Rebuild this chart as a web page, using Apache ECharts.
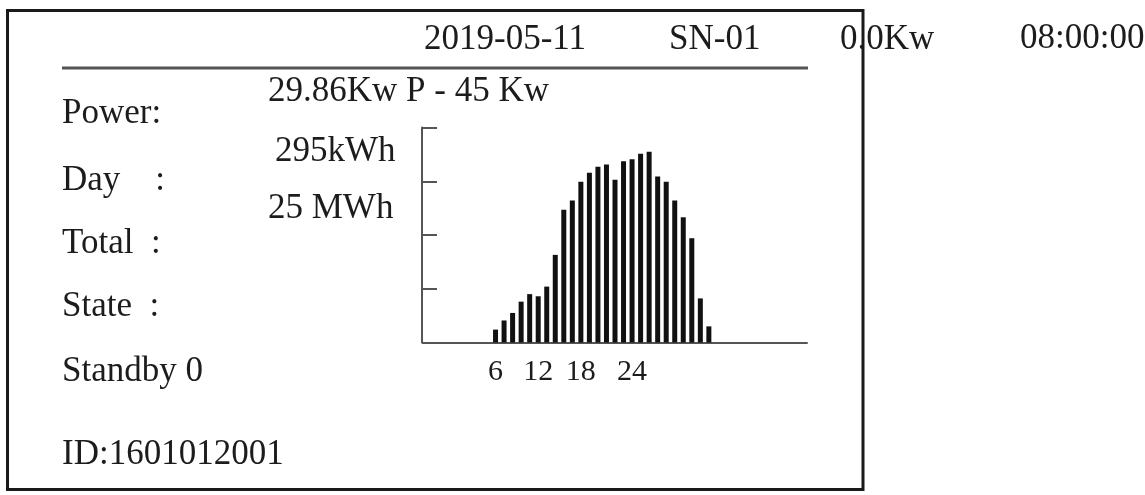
<!DOCTYPE html>
<html>
<head>
<meta charset="utf-8">
<title>Inverter display</title>
<script src="https://cdn.jsdelivr.net/npm/echarts@6/dist/echarts.min.js"></script>
<style>
    html, body { margin: 0; padding: 0; background: #fff; }
    #main { width: 1145px; height: 495px; }
</style>
</head>
<body>
<div id="main"></div>
<script>
'use strict';

// 45 slots along the time axis, bars only where there is output
var slots = Array.from({ length: 45 }, function (v, i) { return String(i); });

var power = [
    null, null, null, null, null, null, null, null,
    0.24, 0.41, 0.55, 0.76, 0.90, 0.86, 1.04, 1.63,
    2.47, 2.64, 2.99, 3.16, 3.27, 3.31, 3.03, 3.37,
    3.41, 3.51, 3.55, 3.09, 2.99, 2.64, 2.33, 1.94,
    0.82, 0.30,
    null, null, null, null, null, null, null, null, null, null, null
];

// tick labels shown under the bars, keyed by slot
var tickLabels = { '8': '6', '13': '12', '18': '18', '24': '24' };

var headerTexts = ['2019-05-11', 'SN-01', '0.0Kw', '08:00:00'];
var rowLabels = ['Power:', 'Day    :', 'Total  :', 'State  :', 'Standby 0', 'ID:1601012001'];
var rowValues = ['29.86Kw P - 45 Kw', '295kWh', '25 MWh'];

var fontFamily = '"Liberation Serif", "Times New Roman", serif';
var textColor = '#1c1c1c';

var txt = function (s, x, baseline, size) {
    size = size || 35;
    return {
        type: 'text',
        x: x,
        y: baseline - size * 0.32,
        z: 10,
        style: {
            text: s,
            fill: textColor,
            font: size + 'px ' + fontFamily,
            verticalAlign: 'middle',
            align: 'left'
        }
    };
};

var myChart = echarts.init(document.getElementById('main'));

var option = {
    backgroundColor: '#fff',
    animation: false,
    grid: {
        left: 423,
        top: 127.5,
        width: 384,
        height: 215
    },
    xAxis: {
        type: 'category',
        data: slots,
        axisLine: {
            lineStyle: { color: '#555', width: 2 }
        },
        axisTick: { show: false },
        axisLabel: {
            interval: 0,
            margin: 15,
            color: textColor,
            fontFamily: fontFamily,
            fontSize: 30,
            formatter: function (value, index) {
                return tickLabels[index] || '';
            }
        },
        splitLine: { show: false }
    },
    yAxis: {
        type: 'value',
        min: 0,
        max: 4,
        interval: 1,
        offset: 1,
        axisLine: {
            show: true,
            lineStyle: { color: '#555', width: 2 }
        },
        axisTick: {
            show: true,
            inside: true,
            length: 15,
            lineStyle: { color: '#555', width: 2 }
        },
        axisLabel: { show: false },
        splitLine: { show: false }
    },
    series: [
        {
            name: 'Power',
            type: 'bar',
            data: power,
            barWidth: 5,
            itemStyle: { color: '#111' }
        }
    ],
    graphic: [
        {
            type: 'line',
            z: 5,
            shape: { x1: 62, y1: 68, x2: 808, y2: 68 },
            style: { stroke: '#555', lineWidth: 3 }
        },
        txt(headerTexts[0], 424, 51),
        txt(headerTexts[1], 669, 51),
        txt(headerTexts[2], 840, 51),
        txt(headerTexts[3], 1020, 50),
        txt(rowValues[0], 268, 103),
        txt(rowValues[1], 275, 163),
        txt(rowValues[2], 268, 220),
        txt(rowLabels[0], 62, 125),
        txt(rowLabels[1], 62, 192),
        txt(rowLabels[2], 62, 255),
        txt(rowLabels[3], 62, 318),
        txt(rowLabels[4], 62, 383),
        txt(rowLabels[5], 62, 466),
        {
            type: 'rect',
            z: 20,
            shape: { x: 7.5, y: 10.5, width: 855.5, height: 479 },
            style: { fill: 'none', stroke: '#1a1a1a', lineWidth: 3 }
        }
    ]
};

myChart.setOption(option);
</script>
</body>
</html>
